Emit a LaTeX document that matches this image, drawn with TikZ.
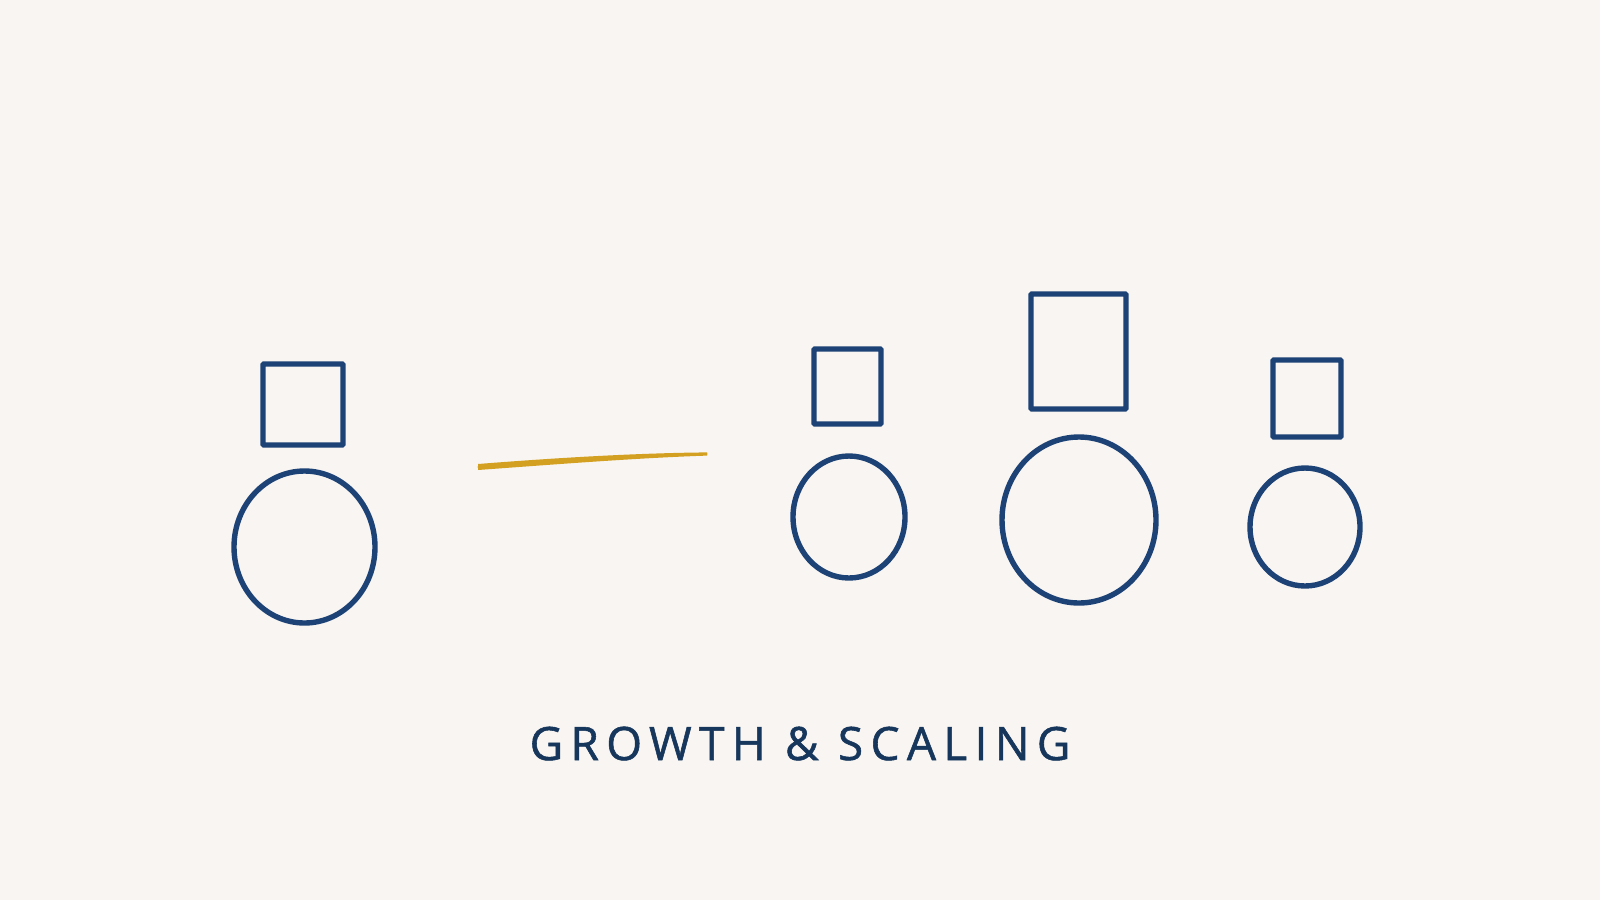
\documentclass[tikz,border=0pt]{standalone}
\usepackage{fontspec}
\setmainfont{Open Sans}
\newfontfamily\titlefont[LetterSpace=16,FakeBold=1.2]{Open Sans}
\usetikzlibrary{shapes.geometric}
\definecolor{paper}{HTML}{F8F5F2}
\definecolor{ink}{HTML}{1D4275}
\definecolor{titleink}{HTML}{17365C}
\definecolor{gold}{HTML}{D4A021}
\tikzset{
  box/.style={draw=ink, line width=5.4pt, rectangle, inner sep=0pt, rounded corners=1pt},
  ball/.style={draw=ink, line width=5.4pt, ellipse, inner sep=0pt},
}
\begin{document}
\begin{tikzpicture}[x=1pt,y=-1pt]
\fill[paper] (0,0) rectangle (1600,900);
\useasboundingbox (0,0) rectangle (1600,900);
% group 1
\node[box, minimum width=80pt, minimum height=81pt] (s1) at (303,404.5) {};
\node[ball, minimum width=141pt, minimum height=152pt] (c1) at (304.5,547) {};
% group 2
\node[box, minimum width=67pt, minimum height=75pt] (s2) at (847.5,386.5) {};
\node[ball, minimum width=112pt, minimum height=122pt] (c2) at (849,517) {};
% group 3
\node[box, minimum width=95pt, minimum height=115pt] (s3) at (1078.5,351.5) {};
\node[ball, minimum width=154pt, minimum height=166pt] (c3) at (1079,520) {};
% group 4
\node[box, minimum width=68pt, minimum height=77pt] (s4) at (1307,398.5) {};
\node[ball, minimum width=110pt, minimum height=118pt] (c4) at (1305,527) {};
% gold stroke
\coordinate (g1) at (478,467);
\coordinate (g2) at (707,454);
\fill[gold] (478,464) .. controls (560,457.5) and (640,453) .. (707,452.4)
  -- (707,455.6) .. controls (640,457.8) and (560,464) .. (478,470) -- cycle;
\draw[gold, line width=1.4pt, line cap=round] (g1) .. controls (560,460.8) and (640,455.5) .. (g2);
% title
\node[anchor=base, text=titleink, font=\titlefont\fontsize{46}{46}\selectfont, inner sep=0pt] (title) at (800,760) {GROWTH \& SCALING};
\end{tikzpicture}
\end{document}
